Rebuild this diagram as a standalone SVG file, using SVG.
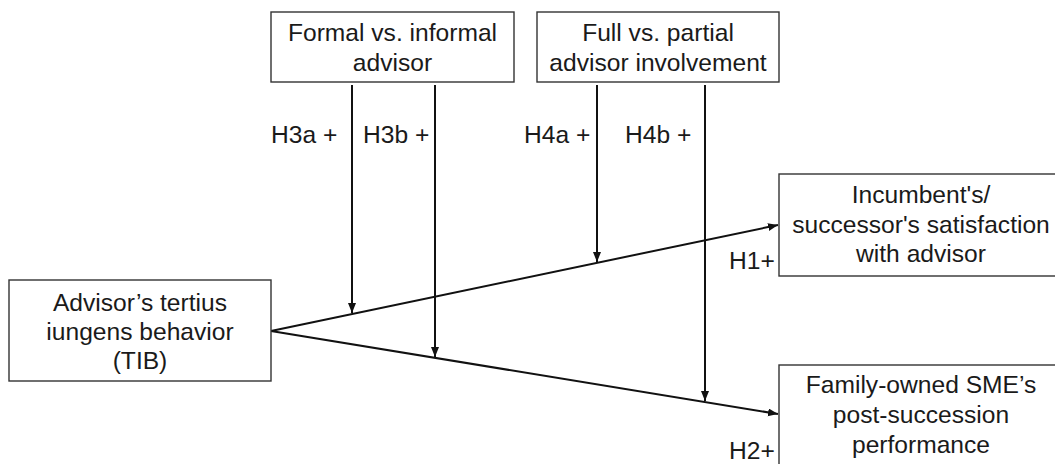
<svg xmlns="http://www.w3.org/2000/svg" width="1055" height="464" viewBox="0 0 1055 464">
<style>
.box{fill:#fff;stroke:#333;stroke-width:1.4}
.t{font-family:"Liberation Sans",Arial,sans-serif;font-size:24.6px;fill:#1a1a1a;text-anchor:middle}
.l{font-family:"Liberation Sans",Arial,sans-serif;font-size:24.6px;fill:#1a1a1a}
.c{stroke:#111;stroke-width:2;fill:none}
</style>
<defs>
<marker id="ah" markerUnits="userSpaceOnUse" markerWidth="11" markerHeight="9" refX="10" refY="4" orient="auto">
<path d="M0,0 L10,4 L0,8 Z" fill="#111"/>
</marker>
</defs>
<rect width="1055" height="464" fill="#fff"/>
<g id="connectors">
<line class="c" x1="271" y1="331" x2="778" y2="225" marker-end="url(#ah)"/>
<line class="c" x1="271" y1="331" x2="778" y2="414" marker-end="url(#ah)"/>
<line class="c" x1="352" y1="85" x2="352" y2="313" marker-end="url(#ah)"/>
<line class="c" x1="435" y1="85" x2="435" y2="357" marker-end="url(#ah)"/>
<line class="c" x1="597" y1="85" x2="597" y2="262" marker-end="url(#ah)"/>
<line class="c" x1="705" y1="85" x2="705" y2="401" marker-end="url(#ah)"/>
<text class="l" x="271" y="143">H3a +</text>
<text class="l" x="363" y="143">H3b +</text>
<text class="l" x="524" y="143">H4a +</text>
<text class="l" x="625" y="143">H4b +</text>
<text class="l" x="729" y="269">H1+</text>
<text class="l" x="729" y="459">H2+</text>
</g>
<g id="formal">
<rect class="box" x="271" y="12" width="243" height="70"/>
<text class="t" x="392.5" y="41">Formal vs. informal</text>
<text class="t" x="392.5" y="71">advisor</text>
</g>
<g id="full">
<rect class="box" x="537" y="12" width="242" height="70"/>
<text class="t" x="658" y="41">Full vs. partial</text>
<text class="t" x="658" y="71">advisor involvement</text>
</g>
<g id="tib">
<rect class="box" x="9" y="280" width="262" height="101"/>
<text class="t" x="140" y="311">Advisor’s tertius</text>
<text class="t" x="140" y="340">iungens behavior</text>
<text class="t" x="140" y="369">(TIB)</text>
</g>
<g id="satisfaction">
<rect class="box" x="779" y="174" width="286" height="102"/>
<text class="t" x="921" y="203">Incumbent's/</text>
<text class="t" x="921" y="233">successor's satisfaction</text>
<text class="t" x="921" y="262">with advisor</text>
</g>
<g id="performance">
<rect class="box" x="779" y="365" width="286" height="110"/>
<text class="t" x="921" y="393">Family-owned SME’s</text>
<text class="t" x="921" y="423">post-succession</text>
<text class="t" x="921" y="453">performance</text>
</g>
</svg>
